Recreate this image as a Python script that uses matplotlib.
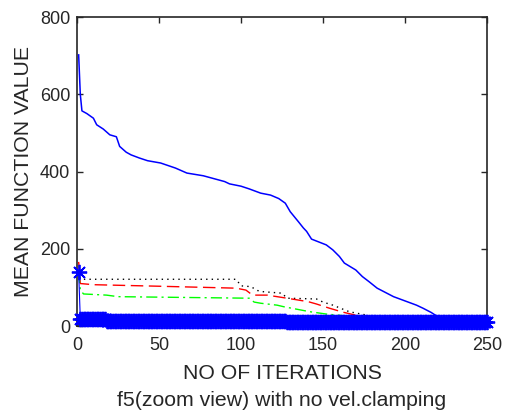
import numpy as np
import matplotlib
matplotlib.use("Agg")
import matplotlib.pyplot as plt

plt.rcParams['font.family'] = ['Liberation Sans', 'DejaVu Sans']

# Blue solid line (iteration, mean function value)
blue_it = [1, 2, 3, 6, 10, 12, 16, 20, 24, 26, 30, 33, 38, 43, 51, 60, 67, 77, 90, 93,
           100, 105, 112, 118, 123, 127, 130, 135, 138, 140, 143, 152, 156, 160, 163,
           170, 174, 178, 183, 193, 207, 211, 216, 220, 224, 226, 250]
blue_val = [702, 600, 557, 550, 538, 521, 510, 495, 490, 465, 450, 443, 435, 428, 422,
            409, 396, 389, 374, 368, 362, 355, 344, 339, 330, 318, 296, 270, 254, 245,
            225, 210, 197, 180, 163, 145, 128, 115, 98, 76, 54, 46, 35, 24, 8, 3, 3]

# Black dotted
black_it = [1, 2, 97, 100, 106, 110, 113, 125, 128, 146, 150, 156, 166, 177, 182, 186, 250]
black_val = [140, 121, 121, 104, 102, 92, 89, 85, 72, 70, 62, 54, 37, 28, 15, 5, 3]

# Red dashed
red_it = [1, 2, 10, 50, 97, 103, 107, 116, 122, 128, 141, 146, 154, 162, 170, 174, 180, 186, 250]
red_val = [166, 110, 107, 103, 98, 93, 80, 80, 76, 72, 63, 57, 46, 36, 28, 24, 12, 5, 3]

# Green dash-dot
green_it = [1, 2, 4, 18, 25, 105, 108, 112, 122, 126, 142, 152, 162, 168, 175, 250]
green_val = [140, 93, 83, 80, 76, 72, 62, 59, 54, 50, 37, 31, 27, 15, 5, 3]

# Blue asterisk-marker series (one marker per iteration)
star_it = list(range(1, 251))
star_val = [140] + [19] * 16 + [14] * 110 + [10] * 123

fig = plt.figure(figsize=(5.05, 4.16), dpi=100)
ax = fig.add_axes([0.1525, 0.2163, 0.8119, 0.7428])

ax.plot(star_it, star_val, color='#0000ff', linestyle='-', linewidth=0.8,
        marker=(8, 2, 0), markersize=11, markeredgewidth=1.3, clip_on=False, zorder=4)
ax.plot(blue_it, blue_val, color='#0000ff', linewidth=1.1, zorder=3)
ax.plot(black_it, black_val, color='black', linestyle=(0, (1, 3)), linewidth=1.0, zorder=3)
ax.plot(red_it, red_val, color='#ff0000', linestyle=(0, (9, 4)), linewidth=1.0, zorder=3)
ax.plot(green_it, green_val, color='#00ff00', linestyle=(0, (8, 3, 1.5, 3)), linewidth=1.0, zorder=3)

ax.set_xlim(0, 250)
ax.set_ylim(0, 800)
ax.set_xticks([0, 50, 100, 150, 200, 250])
ax.set_yticks([0, 200, 400, 600, 800])

tc = '#262626'
ax.tick_params(direction='in', top=True, right=True, length=4, width=1.0,
               labelsize=13, colors=tc, pad=5)
ax.tick_params(axis='x', pad=8)
for s in ax.spines.values():
    s.set_linewidth(1.2)
    s.set_color(tc)

ax.set_xlabel('NO OF ITERATIONS', fontsize=15.3, color=tc, labelpad=7)
ax.set_ylabel('MEAN FUNCTION VALUE', fontsize=15.3, color=tc, labelpad=5)
fig.text(0.558, 0.038, 'f5(zoom view) with no vel.clamping', ha='center', va='center',
         fontsize=15.3, color=tc)

fig.savefig('out.png', dpi=100)
